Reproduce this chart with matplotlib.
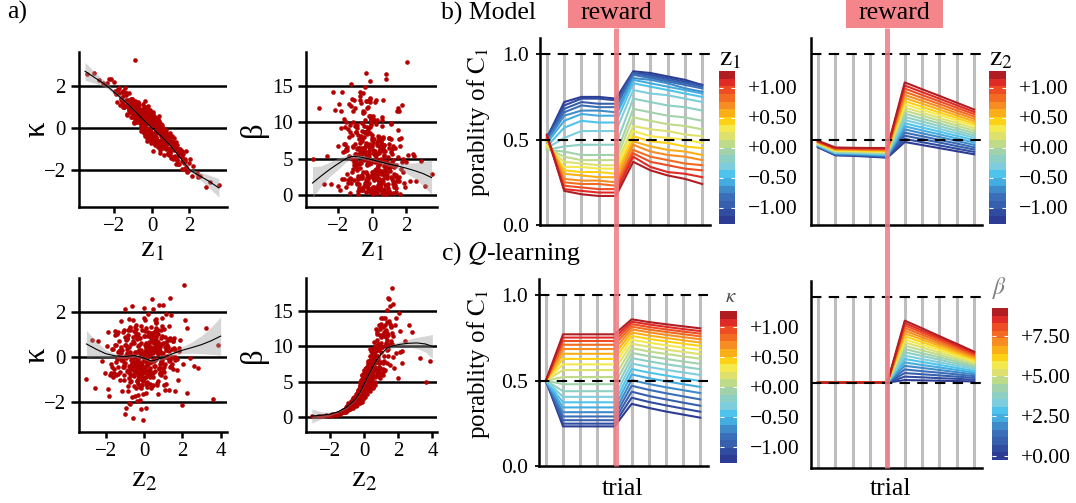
import numpy as np
import matplotlib
matplotlib.use("Agg")
import matplotlib.pyplot as plt
import matplotlib.transforms as mtransforms
from matplotlib.colors import ListedColormap, Normalize
from matplotlib.colorbar import ColorbarBase
from matplotlib.lines import Line2D
from matplotlib.patches import Rectangle

SERIF = ["Liberation Serif", "DejaVu Serif"]
plt.rcParams["font.family"] = SERIF
plt.rcParams["mathtext.fontset"] = "stix"
plt.rcParams["axes.unicode_minus"] = True

# ---------------- data: panel a (individual estimates) ----------------
z1 = [-0.32, 1.15, 0.48, -1.62, 0.05, 2.21, -0.87, 0.63, -0.15, 1.42,
      0.91, -0.58, -1.95, 0.27, -0.04, 0.74, -1.21, 1.83, -0.41, 0.18,
      -2.63, 0.36, 1.07, -0.72, 0.55, -0.19, -1.38, 0.02, 2.56, -0.95,
      0.13, -0.66, 1.29, -0.28, 0.81, -1.74, 0.44, -0.09, 1.61, -1.05,
      0.67, -0.23, -0.51, 1.93, -1.49, 0.29, -0.81, 0.98, 0.08, -3.45,
      -0.12, 1.36, -0.97, 0.57, -2.18, 0.21, -0.44, 1.12, -1.27, 0.39,
      0.74, -1.58, 0.03, -0.35, 2.87, -0.69, 0.46, -0.06, 1.23, -1.12,
      -0.53, 0.88, -1.84, 0.16, 1.55, -0.26, 0.62, -0.91, 0.34, -2.41,
      1.71, -0.14, 0.51, -1.33, 0.95, -0.62, 0.24, 2.05, -0.78, -0.01,
      -0.39, 0.71, -1.09, 1.18, -0.18, 0.42, -1.66, 0.07, 0.86, -0.57,
      3.55, -0.85, 0.31, -0.47, 1.48, -1.41, 0.59, -0.24, 1.02, -2.02,
      0.19, -0.73, 1.67, -0.08, 0.49, -1.17, 0.92, -0.36, -1.9, 0.64,
      -0.61, 0.11, 1.39, -1.02, 0.37, -0.29, 2.38, -0.75, 0.78, -1.53,
      0.26, -0.43, 1.09, -1.23, 0.53, -0.11, -2.85, 0.69, -0.67, 1.26,
      -0.02, 0.83, -1.46, 0.41, -0.55, 1.87, -0.89, 0.14, 0.99, -0.3,
      1.51, -0.94, 0.33, -1.71, 0.06, 0.6, -0.49, 1.31, -1.15, 0.23,
      -0.16, 0.47, -2.27, 0.97, -0.64, 0.15, 1.74, -0.38, -1.0, 0.56,
      0.38, -1.31, 0.79, -0.21, 2.14, -0.83, 0.09, -0.52, 1.2, -1.78,
      -0.07, 1.04, -0.71, 0.52, -1.4, 0.28, 1.58, -0.98, -0.25, 3.1,
      0.61, -0.45, 1.45, -1.06, 0.01, -0.6, 0.85, -1.99, 0.35, -0.13,
      -3.1, 0.44, 0.17, -0.8, 1.13, -0.34, 0.72, -1.25, 2.48, -0.46,
      0.96, -0.2, -1.57, 0.54, 0.1, 1.62, -0.93, 0.3, -0.7, 1.8,
      0.42, -0.18, 0.95, -0.77, 0.21, -1.13, 0.58, -0.36, 1.24, -0.02,
      -0.55, 0.73, -0.09, 1.49, -1.36, 0.31, -0.68, 0.12, 0.86, -0.24,
      1.02, -0.47, 0.26, -1.01, 0.64, -0.13, 1.77, -0.84, 0.39, -0.31,
      -1.52, 0.08, 0.81, -0.42, 1.31, -0.93, 0.49, -0.06, -0.71, 0.17,
      0.55, -0.29, 1.12, -0.61, 0.03, 0.92, -1.19, 0.35, -0.44, 0.71,
      -0.14, 0.46, -0.87, 1.38, -0.33, 0.19, -1.65, 0.67, -0.52, 1.06,
      0.29, -0.75, 0.04, 0.89, -0.21, 1.58, -0.98, 0.41, -0.37, -1.28,
      -0.63, 0.14, 0.77, -0.05, 1.19, -0.49, 0.33, -1.41, 0.6, -0.17,
      0.98, -0.26, 0.52, -0.9, 0.0, 1.33, -0.58, 0.23, -1.08, 0.44,
      -0.39, 0.62, -0.12, 1.61, -0.8, 0.37, -0.23, 0.85, -1.6, 0.11,
      0.25, -0.96, 1.43, -0.16, 0.7, -0.56, 0.06, -1.22, 0.47, -0.01,
      -0.72, 0.39, -0.31, 1.1, -1.05, 0.18, 0.83, -0.45, 0.56, -0.1,
      1.26, -0.66, 0.09, -1.8, 0.48, -0.19, 0.94, -0.38, 0.27, -0.85,
      -0.04, 0.51, -1.31, 0.74, -0.27, 1.0, -0.64, 0.15, -0.5, 2.0,
      0.36, -0.82, 0.65, -0.15, 1.52, -0.42, 0.22, -1.14, 0.79, -0.28,
      -1.0, 0.05, 0.58, -0.7, 1.21, -0.09, 0.43, -0.35, 0.9, -1.47,
      0.16, -0.57, 1.05, -0.2, 0.66, -0.78, 0.3, -0.03, -1.11, 0.84,
      -0.46, 1.3, -0.13, 0.55, -0.92, 0.2, 1.7, -0.25, 0.4, -0.69,
      0.72, -0.34, 0.13, -1.55, 0.99, -0.05, 0.5, -0.88, 0.03, 1.16,
      -0.21, 0.88, -0.6, 0.32, -0.11, 1.4, -0.74, 0.07, 0.6, -1.2]

z2 = [0.71, -0.44, -1.28, 0.12, 1.05, -0.63, 0.38, -2.05, 1.56, -0.09,
      -0.86, 0.27, 0.93, -0.15, -1.72, 0.52, 1.34, -0.37, 0.04, -1.08,
      0.46, -0.71, 0.19, 1.82, -0.24, -1.41, 0.65, -0.02, -0.95, 1.17,
      -1.93, 0.83, -0.31, 0.09, 1.48, -0.57, 0.33, -1.16, 2.25, -0.18,
      0.58, -0.12, 1.26, -0.79, -0.41, 0.15, -2.38, 0.97, -0.66, 0.42,
      1.69, -1.02, 0.24, -0.27, 0.78, -1.55, 0.06, 1.11, -0.48, 3.85,
      -0.33, 0.61, -0.87, 1.39, -0.05, 0.36, -1.23, 0.89, -1.79, 0.13,
      0.03, -0.52, 1.02, -1.34, 0.49, -0.14, 2.61, -0.74, 0.28, -0.99,
      -0.21, 1.24, -0.6, 0.71, -1.47, 0.18, -0.35, 1.63, -0.81, 0.55,
      2.02, -1.12, 0.37, -0.08, 0.94, -0.68, 1.31, -2.71, 0.11, -0.29,
      -0.56, 0.8, -1.6, 0.22, 1.15, -0.4, 0.5, -0.91, 1.76, 0.0,
      0.31, -1.37, 0.66, -0.17, -0.76, 1.52, -0.03, 0.92, -1.21, 0.44,
      1.08, -0.25, -1.85, 0.59, 0.16, -0.54, 1.97, -0.1, -1.05, 0.74,
      -0.45, 0.35, 1.43, -0.89, 0.07, 2.38, -0.62, 0.48, -1.29, -0.19,
      0.87, -3.05, 0.2, -0.36, 1.21, -0.73, 2.1, -1.49, 0.1, 1.62,
      -0.07, 0.68, -1.14, 0.41, -0.5, 1.37, 0.25, -0.84, 3.25, -0.3,
      0.14, -0.67, 0.99, -1.66, 0.47, -0.13, 1.29, -0.43, 0.62, -2.2,
      -0.97, 0.53, -0.23, 1.86, 0.08, -0.59, 0.77, -1.32, 0.3, 1.13,
      0.39, -1.9, 0.85, -0.06, -0.71, 1.5, -0.38, 0.21, 2.81, -1.0,
      -0.28, 1.0, -0.49, 0.63, -1.18, 0.17, 1.72, -0.8, -0.11, 0.43,
      1.34, -0.34, 0.05, -1.52, 0.9, -0.65, 0.29, 2.12, -0.16, -0.93,
      -1.26, 0.57, 0.02, 1.09, -0.42, -2.55, 0.73, -0.09, 1.45, 3.6,
      -0.62, 0.34, -0.11, 0.87, -1.04, 0.22, 0.61, -0.38, -0.79, 1.19,
      0.48, -0.29, 1.36, -0.53, 0.07, -1.44, 0.93, 0.26, -0.15, -0.97,
      -0.23, 0.72, -1.66, 0.41, -0.44, 1.02, 0.13, -0.71, 0.55, 1.58,
      -0.86, 0.19, -0.35, 1.27, -1.13, 0.66, -0.02, 0.84, -0.57, 0.31,
      1.09, -0.49, 0.38, -0.19, 0.77, -0.83, 0.05, -1.27, 1.43, -0.08,
      -0.64, 0.52, -0.27, 0.16, -1.52, 0.99, -0.41, 0.29, 1.71, -0.12,
      0.43, -1.06, 0.81, -0.32, 0.12, -0.74, 1.17, -0.09, 0.63, -1.9,
      -0.36, 0.91, -0.6, 0.24, -0.15, 1.32, -0.89, 0.58, 0.02, -0.47,
      0.7, -0.25, 1.5, -0.78, 0.35, -0.05, -1.36, 0.86, -0.52, 0.1,
      -0.95, 0.47, -0.2, 1.06, -0.38, 0.69, -1.22, 0.2, 2.25, -0.66,
      0.55, -0.13, -1.03, 0.96, 0.28, -0.55, 1.62, -0.3, 0.08, -1.7,
      0.17, -0.83, 0.64, -0.44, 1.21, -0.1, -1.57, 0.39, 0.81, -0.26,
      -0.7, 0.33, -0.05, 1.41, -0.99, 0.6, -0.33, 0.12, -1.18, 0.78,
      0.98, -0.58, 0.46, -0.16, 0.27, -1.34, 1.12, -0.42, 0.52, -0.04,
      -0.22, 0.87, -1.4, 0.06, 0.74, -0.67, 0.37, 1.29, -0.08, -0.9,
      0.32, -0.47, 0.9, -1.11, 0.14, 1.53, -0.28, 0.67, -0.64, 0.24,
      -1.25, 0.58, -0.11, 0.4, -0.73, 1.19, 0.0, -0.5, 0.94, -0.18,
      0.09, -0.31, 1.33, -0.86, 0.5, -0.14, 0.71, -1.0, 0.21, 1.85,
      -0.54, 0.15, -0.93, 0.62, -0.06, 1.08, -0.4, 0.44, -1.62, 0.3,
      0.82, -0.77, 0.26, -0.37, 1.6, -0.2, 0.53, -1.45, 0.13, -0.01]

kappa = [0.64, -1.36, 0.06, 1.29, -0.65, -1.78, 0.90, -0.73, 0.84, -1.26,
         -1.29, 0.68, 1.74, 0.15, -0.71, -0.38, 0.86, -1.08, 0.28, -0.17,
         2.12, 0.22, -0.78, 0.26, -0.66, 1.02, 1.57, -0.52, -2.26, 0.67,
         0.48, 0.26, -1.69, 0.41, -0.30, 1.65, -1.20, 0.33, -1.58, 1.37,
         -0.42, -0.34, 0.82, -2.03, 0.97, 0.38, 0.70, -0.60, -1.07, 2.57,
         -0.09, -0.80, 0.24, -0.42, 2.31, -0.54, 0.95, -1.48, 1.32, 0.54,
         -0.98, 1.70, 0.37, -0.38, -2.79, 0.83, 0.18, -0.19, -0.78, 0.53,
         0.54, -0.31, 1.24, -0.45, -1.23, -0.36, -0.42, 1.29, 0.44, 2.12,
         -1.92, 0.43, -0.37, 0.67, -0.22, 0.37, -0.67, -1.49, 0.97, 0.56,
         -0.29, -0.45, 1.35, -1.04, -0.13, 0.11, 1.38, 0.74, -1.19, 0.47,
         -2.72, 0.38, -0.89, 1.13, -1.21, 1.05, -0.19, -0.63, -1.04, 2.16,
         0.08, 1.12, -1.24, -0.43, -0.40, 0.73, -1.05, 0.93, 1.60, -1.29,
         0.46, 0.30, -1.73, 1.14, -0.64, -0.28, -2.14, 1.19, -0.37, 1.01,
         -0.64, 0.65, -0.40, 0.83, -0.04, -0.05, 2.27, -0.88, 0.72, -0.66,
         0.17, -0.96, 1.89, -0.08, 0.06, -2.07, 3.2, 0.52, -0.71, -0.02,
         -0.99, 0.71, -0.10, 1.07, 0.64, -0.45, -0.20, -1.51, 1.31, -0.26,
         -0.35, -0.13, 2.29, -0.44, 0.34, -0.54, -1.45, 1.25, 0.62, -0.17,
         -0.25, 0.61, -0.38, 0.74, -2.27, 0.91, -0.48, 0.28, -0.50, 1.89,
         0.41, -1.41, 0.45, 0.12, 1.34, -0.01, -1.95, 0.55, -0.47, -2.55,
         -0.01, 0.16, -1.73, 1.28, 0.44, 0.05, -0.58, 1.68, -0.67, 0.87,
         2.60, -1.05, 0.19, 1.14, -0.79, 0.01, -0.86, 1.65, -2.33, -0.03,
         -1.03, 0.78, 1.74, -0.90, -0.64, -1.39, 1.21, 0.17, 0.34, -1.86,
         -0.09, -0.23, -0.72, 1.21, -0.44, 0.94, -0.08, -0.27, -0.94, 0.37,
         0.16, -0.12, -0.12, -1.27, 1.65, -0.79, 0.58, 0.14, -1.24, 0.87,
         -0.74, 0.13, 0.36, 0.78, -0.24, -0.43, -1.58, 1.22, -0.61, 0.39,
         1.2, 0.33, -0.5, -0.06, -1.51, 1.01, 0.1, -0.29, 0.7, -0.81,
         -0.01, 0.17, -1.38, 0.86, -0.53, -0.65, 1.14, 0.33, 0.0, -0.8,
         -0.32, -0.07, 0.55, -1.12, 1.0, -0.47, 1.42, -0.22, -0.07, -0.73,
         -0.17, 1.19, -0.49, -1.02, 0.49, -1.1, 0.3, -0.23, 0.89, 1.13,
         0.83, -0.73, -0.26, 0.15, -1.39, 0.25, 0.2, 1.65, -0.95, 0.21,
         -1.15, 0.84, -0.53, 0.43, 0.45, -1.02, 0.23, -0.76, 1.14, -0.1,
         0.76, -0.72, -0.39, -1.23, 0.79, 0.26, -0.14, -0.68, 1.27, -0.55,
         0.32, 0.63, -1.02, -0.25, -0.54, -0.13, 0.29, 1.02, -0.23, -0.29,
         0.56, 0.09, 0.49, -0.66, 0.52, -0.47, -0.71, 1.01, -0.72, 0.24,
         -0.81, 0.41, -0.63, 1.86, 0.06, 0.42, -1.21, 0.2, 0.2, 0.28,
         0.64, -0.82, 1.06, -0.28, -0.25, -0.77, 0.89, -0.39, 0.41, -1.64,
         -0.63, 0.85, -0.1, -0.46, -1.05, 0.59, -0.65, 0.75, -0.48, 0.81,
         1.07, -0.45, -0.23, 1.09, -1.31, 0.73, -0.9, 0.22, -0.43, 1.0,
         -0.65, 0.82, -0.87, 0.73, -0.76, 0.32, -0.08, -0.62, 1.37, -0.72,
         0.62, -0.8, -0.18, -0.56, 0.3, 0.32, -1.66, 0.53, 0.08, 0.38,
         -0.86, -0.14, 0.53, 1.53, -0.61, -0.3, -0.31, 0.26, 0.37, -0.87,
         0.54, -0.66, 0.15, 0.21, -0.15, -1.34, 0.93, 0.54, -0.9, 0.95]

beta = [9.4, 2.2, 0.7, 7.0, 6.2, 1.9, 9.6, 0.2, 10.8, 2.7,
        1.35, 7.7, 12.5, 2.9, 0.42, 6.0, 15.2, 3.2, 6.0, 0.7,
        5.4, 2.1, 3.3, 13.1, 4.9, 0.5, 8.0, 3.2, 1.95, 8.7,
        0.35, 6.2, 3.8, 4.25, 16.7, 2.2, 7.75, 0.72, 7.7, 4.1,
        8.0, 2.2, 11.3, 1.1, 2.9, 6.9, 0.18, 7.8, 2.7, 5.0,
        8.5, 1.4, 4.6, 3.1, 11.7, 0.5, 5.9, 5.9, 2.4, 8.0,
        3.9, 7.0, 1.1, 16.8, 4.7, 3.7, 0.9, 10.2, 0.3, 3.6,
        3.1, 2.9, 9.2, 0.66, 9.0, 4.5, 13.0, 1.45, 4.1, 1.55,
        3.6, 6.6, 1.8, 12.5, 0.5, 4.4, 3.6, 18.3, 1.55, 8.2,
        14.8, 0.85, 6.6, 5.7, 5.6, 2.0, 10.5, 0.2, 4.6, 2.4,
        2.9, 8.2, 0.34, 6.4, 11.5, 1.7, 4.8, 1.55, 7.0, 6.7,
        4.6, 0.7, 6.8, 4.6, 1.3, 13.2, 4.3, 12.9, 0.7, 7.9,
        9.9, 2.0, 0.4, 9.5, 4.6, 2.5, 5.6, 4.3, 1.4, 6.3,
        2.4, 8.7, 9.7, 1.6, 2.9, 10.8, 1.5, 6.9, 0.9, 4.8,
        6.8, 0.13, 6.2, 2.2, 14.0, 1.65, 9.2, 0.55, 6.5, 11.9,
        5.2, 9.6, 0.76, 5.9, 2.8, 7.7, 8.0, 1.8, 8.3, 2.7,
        4.8, 1.3, 14.1, 0.46, 6.5, 6.0, 12.4, 3.2, 4.9, 0.22,
        1.4, 9.6, 3.5, 9.1, 5.5, 2.6, 6.0, 0.65, 6.3, 14.1,
        9.6, 0.28, 7.1, 3.0, 2.0, 10.3, 2.5, 7.0, 12.1, 1.2,
        3.3, 11.4, 2.3, 4.5, 0.95, 5.7, 16.0, 1.25, 4.7, 9.4,
        11.9, 3.5, 3.4, 0.53, 9.9, 1.6, 5.4, 12.2, 5.3, 1.25,
        0.9, 6.6, 6.0, 6.75, 2.6, 0.15, 8.7, 3.6, 13.6, 5.0,
        2.25, 4.3, 5.2, 7.65, 0.9, 6.8, 10.7, 2.1, 1.55, 7.9,
        6.5, 4.0, 13.4, 1.9, 5.3, 0.52, 6.0, 7.7, 2.35, 1.5,
        4.2, 8.7, 0.4, 5.6, 1.75, 13.2, 4.6, 2.15, 7.55, 12.9,
        1.15, 7.15, 2.85, 10.3, 1.1, 5.7, 6.15, 10.4, 2.3, 5.5,
        7.65, 2.95, 7.7, 2.5, 10.9, 1.5, 4.9, 0.83, 8.7, 5.45,
        2.6, 4.2, 3.45, 6.5, 0.42, 12.8, 2.2, 6.0, 11.5, 3.8,
        7.25, 0.95, 5.75, 3.9, 4.35, 1.95, 12.0, 5.95, 7.1, 0.28,
        2.6, 10.3, 2.7, 4.35, 4.3, 9.5, 1.15, 9.1, 6.45, 1.6,
        7.8, 4.6, 7.35, 1.7, 7.55, 2.6, 0.66, 13.0, 2.1, 5.75,
        1.3, 6.45, 4.5, 11.6, 2.3, 8.1, 0.94, 3.9, 9.3, 2.15,
        9.7, 3.9, 1.0, 7.0, 6.9, 2.7, 10.4, 2.25, 6.35, 0.37,
        4.6, 1.8, 8.35, 2.45, 13.0, 4.7, 0.45, 4.85, 10.3, 4.4,
        1.9, 8.05, 3.2, 11.6, 1.15, 6.65, 3.75, 6.9, 0.78, 6.5,
        10.5, 1.95, 8.7, 4.3, 4.15, 0.6, 12.7, 3.3, 5.95, 4.5,
        3.95, 6.4, 0.66, 6.0, 12.0, 1.7, 5.05, 10.0, 4.7, 1.35,
        4.25, 3.2, 9.45, 0.85, 6.75, 15.7, 3.3, 6.9, 2.5, 6.55,
        0.84, 8.75, 3.8, 5.2, 2.25, 6.5, 5.6, 2.45, 11.6, 3.35,
        6.5, 2.95, 10.9, 1.65, 4.15, 5.45, 7.8, 0.98, 6.8, 14.1,
        2.75, 5.55, 1.05, 10.1, 3.8, 9.9, 3.2, 6.35, 0.41, 4.5,
        8.7, 1.35, 7.4, 2.65, 12.8, 4.15, 5.7, 0.52, 7.0, 3.1]

# smooth fits (loess + CI)
s_kz1_x = [-3.57, -3.0, -2.42, -2.0, -1.5, -1.0, -0.5, 0.0, 0.5, 1.0, 1.5, 2.03, 2.5, 3.0, 3.57]
s_kz1_y = [2.68, 2.35, 2.0, 1.68, 1.3, 0.88, 0.42, 0.0, -0.4, -0.85, -1.4, -2.0, -2.25, -2.5, -2.84]
s_kz1_lo = [2.25, 2.1, 1.88, 1.58, 1.23, 0.83, 0.38, -0.04, -0.44, -0.9, -1.46, -2.1, -2.42, -2.78, -3.28]
s_kz1_hi = [3.1, 2.6, 2.14, 1.78, 1.37, 0.93, 0.46, 0.04, -0.36, -0.8, -1.34, -1.9, -2.08, -2.22, -2.4]

s_bz1_x = [-3.5, -3.0, -2.5, -2.0, -1.5, -1.2, -1.0, -0.5, 0.0, 0.5, 1.0, 1.5, 2.0, 2.5, 3.0, 3.5]
s_bz1_y = [1.65, 2.6, 3.5, 4.3, 5.05, 5.3, 5.3, 5.15, 4.85, 4.55, 4.25, 4.0, 3.7, 3.35, 2.95, 2.4]
s_bz1_lo = [-0.4, 1.2, 2.5, 3.5, 4.6, 4.95, 5.0, 4.9, 4.6, 4.3, 3.95, 3.55, 3.0, 2.3, 1.3, 0.05]
s_bz1_hi = [3.9, 4.0, 4.5, 5.1, 5.5, 5.65, 5.6, 5.4, 5.1, 4.8, 4.55, 4.45, 4.4, 4.4, 4.6, 4.8]

s_kz2_x = [-3.0, -2.5, -2.0, -1.5, -1.0, -0.5, 0.0, 0.4, 1.0, 1.5, 2.0, 2.5, 3.0, 3.5, 4.0]
s_kz2_y = [0.58, 0.35, 0.15, 0.05, 0.02, 0.07, -0.05, -0.18, -0.03, 0.15, 0.3, 0.42, 0.55, 0.72, 0.93]
s_kz2_lo = [-0.02, 0.0, -0.03, -0.05, -0.07, -0.01, -0.12, -0.25, -0.11, 0.05, 0.15, 0.17, 0.15, 0.12, 0.08]
s_kz2_hi = [1.18, 0.7, 0.33, 0.15, 0.11, 0.15, 0.02, -0.11, 0.05, 0.25, 0.45, 0.67, 0.95, 1.32, 1.78]

s_bz2_x = [-3.05, -2.5, -2.0, -1.5, -1.0, -0.5, -0.2, 0.2, 0.5, 0.75, 1.0, 1.35, 1.7, 2.1, 2.6, 3.1, 3.6, 4.0]
s_bz2_y = [0.15, 0.25, 0.4, 0.75, 1.4, 2.5, 3.6, 5.6, 7.0, 8.1, 8.9, 9.8, 10.1, 10.3, 10.45, 10.5, 10.35, 10.0]
s_bz2_lo = [-0.85, -0.25, 0.15, 0.6, 1.25, 2.35, 3.45, 5.45, 6.85, 7.95, 8.7, 9.55, 9.8, 9.9, 9.9, 9.7, 9.2, 8.3]
s_bz2_hi = [1.15, 0.75, 0.65, 0.9, 1.55, 2.65, 3.75, 5.75, 7.15, 8.25, 9.1, 10.05, 10.4, 10.7, 11.0, 11.3, 11.5, 11.7]

# ---------------- data: panels b, c (probability of C1 per trial) ----------------
trials = [1, 2, 3, 4, 5, 6, 7, 8, 9, 10]
reward_trial = 5

# rows ordered from lowest (blue) to highest (red) colour level
model_z1 = [
    [.51, .72, .75, .75, .74, .90, .89, .87, .85, .82],
    [.51, .70, .74, .74, .73, .89, .88, .86, .84, .82],
    [.50, .68, .72, .71, .71, .89, .87, .85, .83, .81],
    [.50, .66, .70, .69, .69, .88, .86, .84, .82, .80],
    [.49, .64, .67, .67, .66, .86, .85, .83, .80, .78],
    [.48, .61, .65, .64, .64, .85, .83, .81, .79, .77],
    [.46, .57, .61, .60, .60, .83, .81, .79, .77, .75],
    [.45, .51, .55, .55, .55, .79, .77, .76, .74, .72],
    [.44, .46, .47, .47, .47, .74, .72, .70, .69, .67],
    [.44, .43, .41, .41, .41, .68, .66, .64, .63, .61],
    [.45, .40, .38, .38, .38, .63, .61, .59, .58, .56],
    [.46, .37, .36, .35, .35, .58, .56, .55, .53, .52],
    [.47, .34, .34, .33, .33, .55, .52, .51, .50, .48],
    [.49, .32, .31, .31, .30, .52, .49, .48, .46, .45],
    [.50, .30, .29, .28, .28, .49, .46, .44, .43, .41],
    [.51, .27, .26, .26, .25, .47, .43, .41, .40, .38],
    [.52, .25, .24, .24, .23, .44, .40, .38, .36, .35],
    [.52, .23, .22, .21, .21, .42, .37, .35, .33, .32],
    [.52, .21, .20, .19, .19, .40, .34, .31, .30, .28],
    [.53, .20, .18, .17, .17, .37, .32, .29, .27, .24]]

model_z2 = [
    [.455, .408, .405, .400, .394, .486, .468, .450, .432, .414],
    [.457, .410, .408, .403, .397, .504, .485, .466, .447, .428],
    [.459, .413, .410, .405, .400, .523, .503, .483, .462, .442],
    [.461, .415, .413, .408, .403, .541, .520, .498, .477, .455],
    [.463, .418, .415, .411, .406, .560, .537, .515, .492, .469],
    [.465, .420, .418, .414, .409, .578, .554, .531, .507, .483],
    [.467, .422, .420, .416, .412, .596, .571, .547, .522, .497],
    [.469, .425, .423, .419, .415, .615, .589, .563, .537, .511],
    [.471, .427, .425, .422, .418, .633, .606, .579, .551, .524],
    [.473, .430, .428, .424, .421, .652, .623, .595, .566, .538],
    [.475, .432, .430, .427, .424, .670, .641, .611, .582, .552],
    [.477, .434, .433, .430, .427, .688, .658, .627, .597, .566],
    [.479, .437, .435, .432, .430, .707, .675, .644, .612, .580],
    [.481, .439, .438, .435, .433, .725, .692, .659, .626, .593],
    [.483, .442, .440, .438, .436, .744, .710, .676, .641, .607],
    [.485, .444, .443, .441, .439, .762, .727, .692, .656, .621],
    [.487, .446, .445, .443, .442, .780, .744, .708, .671, .635],
    [.489, .449, .448, .446, .445, .799, .761, .724, .686, .649],
    [.491, .451, .450, .449, .448, .817, .778, .740, .701, .662],
    [.493, .454, .452, .451, .451, .835, .795, .756, .716, .676]]

qlearn_kappa = [
    [.5, .232, .232, .232, .232, .364, .340, .319, .301, .283],
    [.5, .248, .248, .248, .248, .400, .375, .355, .336, .318],
    [.5, .268, .268, .268, .268, .435, .410, .390, .371, .353],
    [.5, .290, .290, .290, .290, .470, .446, .426, .408, .390],
    [.5, .315, .315, .315, .315, .503, .480, .461, .444, .427],
    [.5, .343, .343, .343, .343, .536, .514, .496, .479, .463],
    [.5, .373, .373, .373, .373, .568, .547, .530, .513, .498],
    [.5, .405, .405, .405, .405, .600, .580, .563, .548, .533],
    [.5, .438, .438, .438, .438, .632, .613, .596, .581, .567],
    [.5, .479, .479, .479, .479, .662, .643, .627, .612, .598],
    [.5, .521, .521, .521, .521, .690, .671, .656, .642, .628],
    [.5, .562, .562, .562, .562, .716, .698, .682, .668, .655],
    [.5, .595, .595, .595, .595, .740, .722, .707, .693, .680],
    [.5, .627, .627, .627, .627, .762, .744, .730, .716, .703],
    [.5, .657, .657, .657, .657, .782, .764, .750, .736, .723],
    [.5, .685, .685, .685, .685, .800, .783, .768, .755, .742],
    [.5, .710, .710, .710, .710, .816, .799, .785, .772, .759],
    [.5, .732, .732, .732, .732, .831, .814, .800, .787, .775],
    [.5, .752, .752, .752, .752, .845, .829, .815, .802, .790],
    [.5, .771, .771, .771, .771, .859, .843, .830, .818, .806]]

qlearn_beta = [
    [.5, .5, .5, .5, .5, .515, .513, .511, .509, .507],
    [.5, .5, .5, .5, .5, .535, .531, .526, .522, .517],
    [.5, .5, .5, .5, .5, .556, .549, .542, .535, .528],
    [.5, .5, .5, .5, .5, .577, .567, .558, .548, .538],
    [.5, .5, .5, .5, .5, .598, .586, .574, .561, .549],
    [.5, .5, .5, .5, .5, .618, .603, .589, .574, .559],
    [.5, .5, .5, .5, .5, .638, .621, .604, .586, .569],
    [.5, .5, .5, .5, .5, .658, .638, .619, .599, .579],
    [.5, .5, .5, .5, .5, .678, .656, .634, .611, .589],
    [.5, .5, .5, .5, .5, .697, .672, .648, .623, .598],
    [.5, .5, .5, .5, .5, .716, .689, .662, .635, .608],
    [.5, .5, .5, .5, .5, .735, .706, .676, .647, .617],
    [.5, .5, .5, .5, .5, .753, .721, .690, .658, .626],
    [.5, .5, .5, .5, .5, .771, .737, .703, .669, .635],
    [.5, .5, .5, .5, .5, .788, .752, .716, .680, .644],
    [.5, .5, .5, .5, .5, .804, .766, .728, .690, .652],
    [.5, .5, .5, .5, .5, .820, .780, .740, .700, .660],
    [.5, .5, .5, .5, .5, .835, .793, .751, .709, .667],
    [.5, .5, .5, .5, .5, .849, .805, .762, .718, .674],
    [.5, .5, .5, .5, .5, .863, .818, .772, .727, .681]]

level_colors = ["#2C3B94", "#2F4CA0", "#3660AD", "#3A6EB8", "#3F8BC9",
                "#43ACE0", "#4EC4EC", "#7DCDDF", "#8DCFC3", "#A2D2AB",
                "#BEDB8A", "#DEE16E", "#F4EA4E", "#FDD116", "#FAAE18",
                "#F68D22", "#F36B21", "#EE4D23", "#E02A26", "#B01E23"]

z_ticks = [-1.0, -0.5, 0.0, 0.5, 1.0]
z_ticklabels = ["\u22121.00", "\u22120.50", "+0.00", "+0.50", "+1.00"]
z_range = (-1.275, 1.275)
b_ticks = [0.0, 2.5, 5.0, 7.5]
b_ticklabels = ["+0.00", "+2.50", "+5.00", "+7.50"]
b_range = (-0.24, 9.28)

# ---------------- figure ----------------
W, H = 1076, 503
fig = plt.figure(figsize=(W / 100, H / 100), dpi=100)
fig.patch.set_facecolor("white")
cmap = ListedColormap(level_colors)
POINT = "#B40000"


def add_box(x0, y0, x1, y1):
    return fig.add_axes([x0 / W, 1 - y1 / H, (x1 - x0) / W, (y1 - y0) / H])


def ftext(x, y, s, **kw):
    return fig.text(x / W, 1 - y / H, s, **kw)


def scatter_panel(box, x, y, sx, sy, slo, shi, xlim, ylim, xticks, yticks):
    ax = add_box(*box)
    ax.set_xlim(*xlim)
    ax.set_ylim(*ylim)
    for t in yticks:
        ax.axhline(t, color="black", lw=1.8, zorder=1)
    ax.scatter(x, y, s=11, color=POINT, linewidths=0, zorder=2)
    ax.fill_between(sx, slo, shi, color="#999999", alpha=0.4, linewidth=0, zorder=3)
    ax.plot(sx, sy, color="black", lw=0.8, zorder=4)
    ax.set_xticks(xticks)
    ax.set_yticks(yticks)
    for s in ("top", "right"):
        ax.spines[s].set_visible(False)
    for s in ("left", "bottom"):
        ax.spines[s].set_linewidth(1.8)
        ax.spines[s].set_zorder(5)
    ax.tick_params(axis="y", length=5.5, width=1.8, pad=4, labelsize=15,
                   labelfontfamily=SERIF[0])
    ax.tick_params(axis="x", length=4, width=1.8, pad=3, labelsize=15,
                   labelfontfamily=SERIF[0])
    return ax


scatter_panel((79, 52, 227, 207), z1, kappa, s_kz1_x, s_kz1_y, s_kz1_lo, s_kz1_hi,
              (-3.89, 4.0), (-3.74, 3.59), [-2, 0, 2], [-2, 0, 2])
scatter_panel((306, 52, 437, 207), z1, beta, s_bz1_x, s_bz1_y, s_bz1_lo, s_bz1_hi,
              (-3.88, 3.82), (-1.65, 19.67), [-2, 0, 2], [0, 5, 10, 15])
scatter_panel((79, 278, 227, 432), z2, kappa, s_kz2_x, s_kz2_y, s_kz2_lo, s_kz2_hi,
              (-3.39, 4.33), (-3.33, 3.51), [-2, 0, 2, 4], [-2, 0, 2])
scatter_panel((306, 278, 437, 432), z2, beta, s_bz2_x, s_bz2_y, s_bz2_lo, s_bz2_hi,
              (-3.39, 4.27), (-2.12, 19.7), [-2, 0, 2, 4], [0, 5, 10, 15])

AX_T = 22
ftext(37, 129, "\u03ba", rotation=90, ha="center", va="center", fontsize=AX_T)
ftext(254, 129, "\u03b2", rotation=90, ha="center", va="center", fontsize=AX_T)
ftext(37, 355, "\u03ba", rotation=90, ha="center", va="center", fontsize=AX_T)
ftext(254, 355, "\u03b2", rotation=90, ha="center", va="center", fontsize=AX_T)
ftext(152, 257, r"$\mathrm{z}_1$", ha="center", va="baseline", fontsize=AX_T)
ftext(372, 257, r"$\mathrm{z}_1$", ha="center", va="baseline", fontsize=AX_T)
ftext(144, 487, r"$\mathrm{z}_2$", ha="center", va="baseline", fontsize=AX_T)
ftext(364, 487, r"$\mathrm{z}_2$", ha="center", va="baseline", fontsize=AX_T)


def trial_panel(box, rows, show_y):
    ax = add_box(*box)
    ax.set_xlim(0.6, 10.45)
    ax.set_ylim(0, 1.095)
    for t in trials:
        ax.plot([t, t], [0, 1.0], color="#BEBEBE", lw=2.2, zorder=1, solid_capstyle="butt")
    for i, row in enumerate(rows):
        ax.plot(trials, row, color=level_colors[i], lw=1.5, zorder=2)
    for h in (0.5, 1.0):
        ax.axhline(h, color="black", lw=1.5, ls=(0, (5, 3.5)), zorder=3)
    for s in ("top", "right"):
        ax.spines[s].set_visible(False)
    for s in ("left", "bottom"):
        ax.spines[s].set_linewidth(1.8)
        ax.spines[s].set_zorder(5)
    ax.set_xticks([])
    if show_y:
        ax.set_yticks([0, 0.5, 1.0])
        ax.set_yticklabels(["0.0", "0.5", "1.0"])
        ax.tick_params(axis="y", length=3, width=1.3, pad=5, labelsize=15.5,
                       labelfontfamily=SERIF[0])
    else:
        ax.set_yticks([])
    return ax


ax_b1 = trial_panel((540, 38, 710, 225), model_z1, True)
ax_b2 = trial_panel((811, 38, 982, 225), model_z2, False)
ax_c1 = trial_panel((539, 279, 708, 466), qlearn_kappa, True)
ax_c2 = trial_panel((811, 281, 982, 468), qlearn_beta, False)


def colorbar(box, vrange, ticks, labels):
    cax = add_box(*box)
    cb = ColorbarBase(cax, cmap=cmap, norm=Normalize(*vrange), orientation="vertical", ticks=ticks)
    cb.outline.set_visible(False)
    cb.set_ticklabels(labels)
    cax.tick_params(direction="in", length=3, width=0.8, color="white", left=True, right=True,
                    labelleft=False, labelright=True, labelsize=15.5, pad=9,
                    labelfontfamily=SERIF[0])
    return cax


colorbar((719, 71, 735, 224), z_range, z_ticks, z_ticklabels)
colorbar((989, 71, 1006, 224), z_range, z_ticks, z_ticklabels)
colorbar((720, 311, 737, 463), z_range, z_ticks, z_ticklabels)
colorbar((992, 308, 1008, 460), b_range, b_ticks, b_ticklabels)

ftext(719, 65, r"$\mathrm{z}_1$", ha="left", va="baseline", fontsize=20)
ftext(989, 65, r"$\mathrm{z}_2$", ha="left", va="baseline", fontsize=20)
ftext(731, 297, r"$\kappa$", ha="center", va="center", fontsize=15, color="#4D4D4D")
ftext(1000, 288, r"$\beta$", ha="center", va="center", fontsize=17, color="#808080")

ylab = r"porablity of $\mathrm{C}_1$"
ftext(478, 122, ylab, rotation=90, ha="center", va="center", fontsize=18)
ftext(478, 364, ylab, rotation=90, ha="center", va="center", fontsize=18)
ftext(623, 495, "trial", ha="center", va="baseline", fontsize=18.5)
ftext(891, 495, "trial", ha="center", va="baseline", fontsize=18.5)

ftext(7, 19, "a)", ha="left", va="baseline", fontsize=18.5)
ftext(441, 20, "b) Model", ha="left", va="baseline", fontsize=18.5)
ftext(441, 260, r"c) $Q$-learning", ha="left", va="baseline", fontsize=18.5)


def reward(ax, y_top, y_bot, bx0, bx1):
    trans = mtransforms.blended_transform_factory(ax.transData, fig.transFigure)
    fig.add_artist(Line2D([reward_trial, reward_trial], [1 - y_top / H, 1 - y_bot / H],
                          transform=trans, color="#F07C82", lw=3.6, alpha=0.85,
                          solid_capstyle="butt", zorder=6))
    fig.add_artist(Rectangle((bx0 / W, 1 - 28 / H), (bx1 - bx0) / W, 28 / H,
                             transform=fig.transFigure, facecolor="#F4868B",
                             edgecolor="none", zorder=6))
    ftext((bx0 + bx1) / 2, 19, "reward", ha="center", va="baseline", fontsize=18.5, zorder=7)


reward(ax_b1, 28, 466, 568, 665)
reward(ax_b2, 28, 468, 846, 943)

fig.savefig("out.png", dpi=100)
